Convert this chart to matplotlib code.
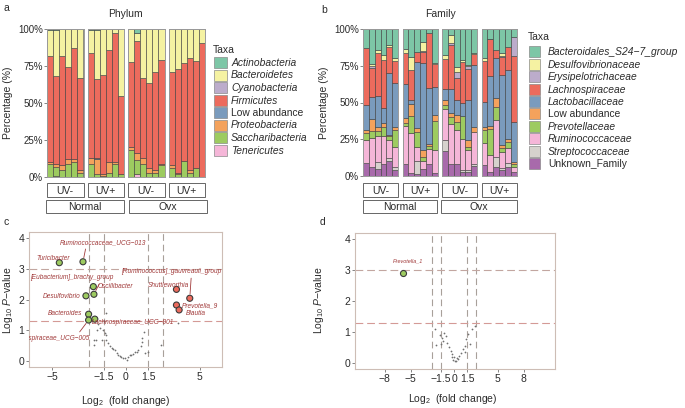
import numpy as np
import matplotlib
matplotlib.use('Agg')
import matplotlib.pyplot as plt
from matplotlib.patches import Rectangle

plt.rcParams['font.family'] = ['Liberation Sans', 'DejaVu Sans']
plt.rcParams['mathtext.fontset'] = 'custom'
plt.rcParams['mathtext.rm'] = 'Liberation Sans'
plt.rcParams['mathtext.it'] = 'Liberation Sans:italic'

# ---- phylum composition (%), 4 groups x 6 mice ----
phylum_names = ['Actinobacteria', 'Bacteroidetes', 'Cyanobacteria', 'Firmicutes',
                'Low abundance', 'Proteobacteria', 'Saccharibacteria', 'Tenericutes']
act = [0.5, 1, 0, 0, 0, 0, 0.5, 0.8, 0, 0, 0, 0, 0, 3, 0, 0, 0, 0, 0, 0, 0, 0, 0, 0]
bac = [17.5, 31, 18, 26, 13, 33, 15.5, 33, 31, 14, 3, 45, 22, 5, 33, 36.5, 29, 21, 29, 27, 23, 19.5, 21.5, 9.5]
cya = [0] * 24
fir = [72, 59.2, 74, 62, 75, 62, 71, 53.5, 67, 76, 87, 53, 58, 75.5, 54, 57.5, 66, 70, 63, 70, 66, 75.5, 72.5, 90.5]
low_p = [0, 0, 0, 0, 0, 0, 0, 0.7, 0, 0, 0, 0, 0, 0, 0, 0, 0, 0, 0, 0, 0, 0, 0, 0]
pro = [1, 2, 3, 3, 2, 2, 4.5, 10, 1, 7, 1, 0, 1.5, 5, 4, 3, 2, 1, 2, 1, 0, 2, 0, 0]
sac = [9, 6, 5, 9, 10, 3, 8.5, 2, 1, 3, 9, 2, 18.5, 9.5, 9, 3, 3, 8, 6, 2, 11, 3, 6, 0]
ten = [0, 0.8, 0, 0, 0, 0, 0, 0, 0, 0, 0, 0, 0, 2, 0, 0, 0, 0, 0, 0, 0, 0, 0, 0]
phylum_cols = ['#7dc6a6', '#f5f2a2', '#bcaccb', '#ec6b5d', '#7a9bbd', '#f4a25c', '#9dcb60', '#f5b6d8']

# ---- family composition (%) ----
family_names = ['Bacteroidales_S24\u22127_group', 'Desulfovibrionaceae', 'Erysipelotrichaceae',
                'Lachnospiraceae', 'Lactobacillaceae', 'Low abundance', 'Prevotellaceae',
                'Ruminococcaceae', 'Streptococcaceae', 'Unknown_Family']
s24 = [13, 23.5, 14.5, 18, 11, 20, 13.5, 19, 15.5, 9, 2.5, 23, 17.5, 4.1, 25.7, 21, 24.5, 16.5, 19.8, 6.5, 14.3, 16.4, 12, 5.2]
desulfo = [0, 2, 1.5, 3, 1, 1.5, 3, 9, 0, 6, 0, 0.5, 3, 5.2, 3.4, 1.4, 1, 0.5, 2, 0.5, 0, 2, 0, 0]
erysi = [0, 1, 0, 0, 0, 0, 0, 0, 0, 0.5, 0, 0, 0, 1.7, 4, 0, 1.5, 0, 0, 0, 0, 0.6, 0, 13.2]
lachno = [38.5, 20, 29.5, 33, 18, 15, 21, 20, 7, 7.5, 37.5, 16, 20.5, 30, 15.3, 28, 21.3, 7.5, 27.7, 25, 5.7, 12.3, 16, 44.6]
lacto = [17, 15, 21, 10, 42, 30.5, 23, 3, 45, 59, 38, 19, 7, 16, 10.2, 8.6, 27.2, 42, 17, 34, 27.2, 47.7, 47, 27.2]
low_f = [2, 8, 3, 3, 1, 2, 3.5, 8, 2.5, 5, 1.5, 4, 3.5, 3, 4.5, 0, 4.5, 3.5, 2, 2, 5.6, 2, 1.6, 1.6]
prevo = [5, 4.5, 3, 6, 2.5, 11, 2, 12, 10, 3, 2, 19.5, 3, 4.5, 5.7, 16, 2.5, 0, 9, 18, 9.1, 2.4, 4.6, 1.9]
rumino = [15.5, 20, 18, 19, 12.5, 14, 25.5, 27, 10, 5, 10, 16, 21, 27, 22.7, 21, 13.5, 21.5, 15, 11, 25.1, 11.4, 10.2, 3.3]
strep = [0, 0, 4.5, 0, 2, 2, 0, 0, 8.5, 0, 0, 0, 7.5, 0, 0, 1, 1, 2, 0, 0, 6.7, 1.2, 2.3, 0]
unknown = [9, 6, 5, 8, 10, 4, 8.5, 2, 1.5, 5, 8.5, 2, 17, 8.5, 8.5, 3, 3, 6.5, 7.5, 3, 6.3, 4, 6.3, 3]
family_cols = ['#7dc6a6', '#f5f2a2', '#bcaccb', '#ec6b5d', '#7a9bbd', '#f4a25c', '#9dcb60',
               '#f5b6d8', '#d6d2cd', '#a86aab']

uv_labels = ['UV-', 'UV+', 'UV-', 'UV+']
surg_labels = ['Normal', 'Ovx']

# ---- volcano c ----
c_names = ['Turicibacter', 'Ruminococcaceae_UCG\u2212013', '[Eubacterium]_brachy_group', 'Oscillibacter',
           'Desulfovibrio', 'Bacteroides', 'Lachnospiraceae_UCG\u2212001', 'Lachnospiraceae_UCG\u2212005',
           'Shuttleworthia', '[Ruminococcus]_gauvreauii_group', 'Prevotella_9', 'Blautia']
c_fc = [-4.5, -2.9, -2.16, -2.2, -2.7, -2.52, -2.1, -2.52, 3.42, 4.32, 3.42, 3.6]
c_logp = [3.2, 3.23, 2.17, 2.42, 2.12, 1.52, 1.36, 1.33, 2.33, 2.04, 1.82, 1.66]
c_tx = [-4.91, -1.52, -3.68, -0.71, -4.36, -4.12, 0.5, -2.43, 2.9, 3.07, 5.03, 4.73]
c_ty = [3.34, 3.85, 2.71, 2.41, 2.11, 1.53, 1.25, 0.74, 2.47, 2.9, 1.8, 1.55]
c_bg_fc = [-1.37, -1.76, -1.98, -1.53, -1.42, -1.35, -2.03, -1.6, -1.33, -1.2, -1.08, -0.95, -0.85, -0.74,
           -0.63, -0.52, -0.4, -0.3, -0.18, -0.07, 0.05, 0.16, 0.28, 0.38, 0.5, 0.6, 0.72, 0.83, 1.05,
           1.12, 1.2, 1.12, 1.3, 1.5, 2.4, 3.5, -2.14, -2.14, -1.9, -1.45]
c_bg_p = [1.55, 1.06, 1.0, 1.0, 0.9, 0.85, 0.68, 0.68, 0.68, 0.57, 0.47, 0.42, 0.38, 0.36, 0.25, 0.2,
          0.17, 0.14, 0.1, 0.09, 0.04, 0.14, 0.18, 0.2, 0.24, 0.28, 0.3, 0.36, 0.47, 0.74, 0.95, 0.6,
          0.25, 0.3, 0.52, 1.22, 0.68, 0.52, 1.2, 1.3]

# ---- volcano d ----
d_names = ['Prevotella_1']
d_fc = [-5.9]
d_logp = [2.91]
d_tx = [-5.3]
d_ty = [3.29]
d_bg_fc = [-2.18, -2.07, -1.6, -1.4, -1.2, -0.9, -0.8, -0.6, -0.4, -0.2, 0, 0.2, 0.4, 0.6, 0.8, 1.0,
           1.2, 1.4, 1.6, 1.8, 2.0, 2.4, -1.5, -0.1, 0.1, -0.3, 0.3, -1.3, 1.3]
d_bg_p = [1.09, 0.58, 0.9, 0.8, 0.97, 0.87, 0.66, 0.5, 0.4, 0.29, 0.18, 0.07, 0.12, 0.23, 0.31, 0.44,
          0.55, 0.76, 0.92, 0.6, 1.09, 1.2, 0.6, 0.1, 0.05, 0.2, 0.15, 0.7, 0.35]

W, H = 685, 408
fig = plt.figure(figsize=(6.85, 4.08), dpi=100)
TXT = '#2b2b2b'
LAB = '#a13a3a'


def px_ax(x0, y0, x1, y1):
    return fig.add_axes([x0 / W, 1 - y1 / H, (x1 - x0) / W, (y1 - y0) / H])


def ftext(x, y, s, **kw):
    kw.setdefault('color', TXT)
    return fig.text(x / W, 1 - y / H, s, **kw)


def fbox(x0, y0, x1, y1, label, ec='#666666'):
    fig.add_artist(Rectangle((x0 / W, 1 - y1 / H), (x1 - x0) / W, (y1 - y0) / H,
                             transform=fig.transFigure, fc='white', ec=ec, lw=0.7))
    ftext((x0 + x1) / 2, (y0 + y1) / 2 + 0.5, label, ha='center', va='center', fontsize=7.5)


def stacked_panel(starts, width, top, bottom, layers, colors):
    axes = []
    for g, x0 in enumerate(starts):
        ax = px_ax(x0, top, x0 + width, bottom)
        idx = np.arange(g * 6, g * 6 + 6)
        base = np.zeros(6)
        for vals, col in zip(layers, colors):
            v = np.asarray(vals, dtype=float)[idx]
            m = v > 0
            ax.bar(np.arange(6)[m], v[m], bottom=base[m], width=1.0, color=col,
                   edgecolor='#3c3c3c', linewidth=0.4)
            base += v
        ax.set_xlim(-0.5, 5.5)
        ax.set_ylim(0, 100)
        ax.set_xticks([])
        for s in ax.spines.values():
            s.set_color('#9a9a9a')
            s.set_linewidth(0.7)
        if g == 0:
            ax.set_yticks([0, 25, 50, 75, 100])
            ax.set_yticklabels(['0%', '25%', '50%', '75%', '100%'])
            ax.tick_params(axis='y', length=2, width=0.5, color='#555555', labelsize=7,
                           pad=1, labelcolor=TXT)
        else:
            ax.set_yticks([])
        axes.append(ax)
    return axes


def legend_block(xk, xt, ytitle, y0, step, kw, kh, names, colors, plain):
    ftext(xk - 1, ytitle, 'Taxa', fontsize=7.5, va='center')
    for i, (n, c) in enumerate(zip(names, colors)):
        y = y0 + i * step
        fig.add_artist(Rectangle((xk / W, 1 - (y + kh / 2) / H), kw / W, kh / H,
                                 transform=fig.transFigure, fc=c, ec='#8a8a8a', lw=0.5))
        ftext(xt, y + 0.5, n, fontsize=7.4, va='center',
              style='normal' if n in plain else 'italic')


# ---------------- panel a ----------------
a_starts = [47, 87.5, 128, 168.5]
stacked_panel(a_starts, 36.5, 29, 177, [ten, sac, pro, low_p, fir, cya, bac, act], phylum_cols[::-1])
ftext(3, 8, 'a', fontsize=7.5, va='center')
ftext(125, 14, 'Phylum', fontsize=7.5, ha='center', va='center')
ftext(8, 103, 'Percentage (%)', fontsize=7.5, rotation=90, ha='center', va='center')
for x0, lab in zip(a_starts, uv_labels):
    fbox(x0, 183, x0 + 36.5, 197, lab)
fbox(46, 200, 124, 213, surg_labels[0])
fbox(129, 200, 207, 213, surg_labels[1])
legend_block(214, 231, 50, 62.5, 12.5, 13, 11, phylum_names, phylum_cols, ['Low abundance'])

# ---------------- panel b ----------------
b_starts = [363, 402.5, 442, 481.5]
stacked_panel(b_starts, 35, 29, 176,
              [unknown, strep, rumino, prevo, low_f, lacto, lachno, erysi, desulfo, s24],
              family_cols[::-1])
ftext(321, 10, 'b', fontsize=7.5, va='center')
ftext(440, 14, 'Family', fontsize=7.5, ha='center', va='center')
ftext(324, 103, 'Percentage (%)', fontsize=7.5, rotation=90, ha='center', va='center')
for x0, lab in zip(b_starts, uv_labels):
    fbox(x0, 183, x0 + 35, 197, lab)
fbox(363, 200, 437, 213, surg_labels[0])
fbox(441, 200, 517, 213, surg_labels[1])
legend_block(529, 548, 37, 51.7, 12.45, 11, 11, family_names, family_cols,
             ['Low abundance', 'Unknown_Family'])


# ---------------- volcano helpers ----------------
def volcano_frame(ax, xlim, ylim, xticks):
    ax.set_xlim(*xlim)
    ax.set_ylim(*ylim)
    ax.set_xticks(xticks)
    ax.set_xticklabels(['0' if t == 0 else ('%g' % t).replace('-', '\u2212') for t in xticks])
    ax.set_yticks([0, 1, 2, 3, 4])
    ax.tick_params(length=2, width=0.5, color='#555555', labelsize=7.5, pad=1.5, labelcolor=TXT)
    for s in ax.spines.values():
        s.set_color('#cdbdb5')
        s.set_linewidth(0.8)
    for v in (-2.5, -1.5, 1.5, 2.5):
        ax.axvline(v, color='#a8a09a', lw=0.8, dashes=(6, 3.5), zorder=1)
    ax.axhline(3, color='#c2a6a0', lw=0.8, dashes=(7, 3.5), zorder=1)
    ax.axhline(1.3, color='#d49a96', lw=0.8, dashes=(7, 3.5), zorder=1)


# ---------------- panel c ----------------
axc = px_ax(29, 232, 222, 367)
volcano_frame(axc, (-6.55, 6.5), (-0.2, 4.2), [-5, -1.5, 0, 1.5, 5])
axc.scatter(c_bg_fc, c_bg_p, s=1.6, c='#707070', lw=0, zorder=2)
c_col = ['#9dcb60' if v < 0 else '#ec6b5d' for v in c_fc]
axc.scatter(c_fc, c_logp, s=19, c=c_col, edgecolors='#3a3a3a', linewidths=0.8, zorder=3)
leaders = {'Ruminococcaceae_UCG\u2212013': (0.3, 0.0), '[Eubacterium]_brachy_group': (0.85, 0.0),
           'Lachnospiraceae_UCG\u2212005': (0.85, 1.0), '[Ruminococcus]_gauvreauii_group': (0.7, 0.0)}
for n, px_, py_, tx, ty in zip(c_names, c_fc, c_logp, c_tx, c_ty):
    ha = 'right' if n.endswith('005') else 'center'
    if n in leaders:
        t = axc.annotate(n, xy=(px_, py_), xytext=(tx, ty), fontsize=4.7, style='italic', color=LAB,
                         ha=ha, va='center', zorder=4, clip_on=True,
                         arrowprops=dict(arrowstyle='-', color=LAB, lw=0.6, shrinkA=0, shrinkB=3,
                                         relpos=leaders[n]))
    else:
        t = axc.text(tx, ty, n, fontsize=4.7, style='italic', color=LAB, ha=ha, va='center',
                     zorder=4, clip_on=True)
ftext(3, 222, 'c', fontsize=7.5, va='center')
ftext(8, 300, r'Log$_{10}$ $\mathit{P}$' + '\u2212value', fontsize=7.5, rotation=90,
      ha='center', va='center')
ftext(126, 401, r'Log$_2$  (fold change)', fontsize=7.5, ha='center', va='center')

# ---------------- panel d ----------------
axd = px_ax(355, 233, 555, 369)
volcano_frame(axd, (-11.4, 11.6), (-0.194, 4.193), [-8, -5, -1.5, 0, 1.5, 5, 8])
axd.scatter(d_bg_fc, d_bg_p, s=1.6, c='#707070', lw=0, zorder=2)
axd.scatter(d_fc, d_logp, s=19, c='#9dcb60', edgecolors='#3a3a3a', linewidths=0.8, zorder=3)
for n, tx, ty in zip(d_names, d_tx, d_ty):
    axd.text(tx, ty, n, fontsize=4.0, style='italic', color=LAB, ha='center', va='center')
ftext(320, 222, 'd', fontsize=7.5, va='center')
ftext(319, 300, r'Log$_{10}$ $\mathit{P}$' + '\u2212value', fontsize=7.5, rotation=90,
      ha='center', va='center')
ftext(453, 399, r'Log$_2$  (fold change)', fontsize=7.5, ha='center', va='center')

fig.savefig('out.png', dpi=100, facecolor='white')
